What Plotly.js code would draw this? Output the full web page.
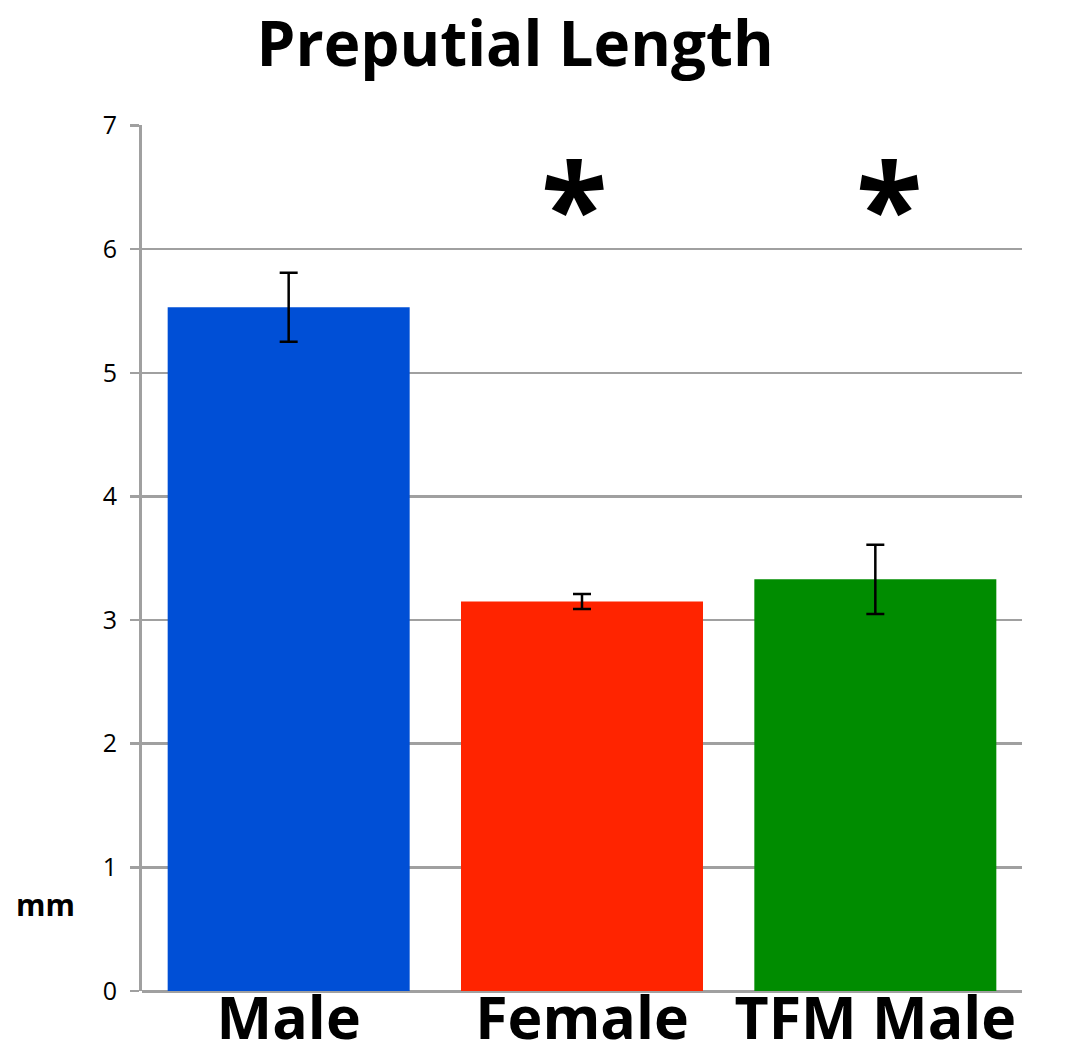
<!DOCTYPE html>
<html>
<head>
<meta charset="utf-8">
<script src="https://cdn.plot.ly/plotly-3.0.1.min.js"></script>
<style>html,body{margin:0;padding:0;background:#fff;}#chart{width:1070px;height:1061px;}</style>
</head>
<body>
<div id="chart"></div>
<script>
const categories = ["Male", "Female", "TFM Male"];
const values = [5.53, 3.15, 3.33];
const errors = [0.28, 0.06, 0.28];
const barColors = ["#004fd6", "#ff2400", "#008c00"];
const significant = [false, true, true];
const starLevel = 6.55;
const yTicks = [0, 1, 2, 3, 4, 5, 6, 7];
const starShift = [0, -8, 14];

const annotations = [];
categories.forEach((c, i) => {
  if (!significant[i]) return;
  annotations.push({
    x: c, y: starLevel, xref: "x", yref: "y", text: "<b>*</b>", showarrow: false,
    font: {family: "Open Sans", size: 122, color: "#000"}, yshift: -24, xshift: starShift[i]
  });
});
annotations.push({
  xref: "paper", yref: "paper", x: -0.11, y: 0.1, xanchor: "center", yanchor: "middle",
  text: "<b>mm</b>", showarrow: false, font: {family: "Open Sans", size: 30, color: "#000"}
});

const trace = {
  type: "bar",
  x: categories,
  y: values,
  marker: {color: barColors, line: {width: 0}},
  error_y: {type: "data", array: errors, visible: true, color: "#000", thickness: 2.5, width: 9},
  hoverinfo: "x+y"
};

const layout = {
  width: 1070, height: 1061,
  margin: {l: 142, r: 48, t: 125, b: 70},
  paper_bgcolor: "#fff", plot_bgcolor: "#fff",
  title: {text: "<b>Preputial Length</b>", x: 0.424, xanchor: "center", xref: "paper", y: 0.958, yanchor: "middle",
          font: {family: "Open Sans", size: 62, color: "#000"}},
  bargap: 0.175,
  showlegend: false,
  xaxis: {
    type: "category", showline: false, showgrid: false, zeroline: false,
    ticks: "", tickfont: {family: "Open Sans", size: 59, color: "#000"}, ticklabelstandoff: -12,
    tickvals: categories, ticktext: categories.map(c => "<b>" + c + "</b>")
  },
  yaxis: {
    range: [0, 7.004], tickvals: yTicks, ticktext: yTicks.map(String),
    showline: true, linecolor: "#a0a0a0", linewidth: 3,
    showgrid: true, gridcolor: "#a0a0a0", gridwidth: 2.5,
    zeroline: true, zerolinecolor: "#a0a0a0", zerolinewidth: 3,
    ticks: "outside", ticklen: 9, tickwidth: 2.5, tickcolor: "#a0a0a0",
    tickfont: {family: "Open Sans", size: 25, color: "#000"}, ticklabelstandoff: 8
  },
  annotations: annotations
};

Plotly.newPlot("chart", [trace], layout, {displayModeBar: false, staticPlot: true});
</script>
</body>
</html>
